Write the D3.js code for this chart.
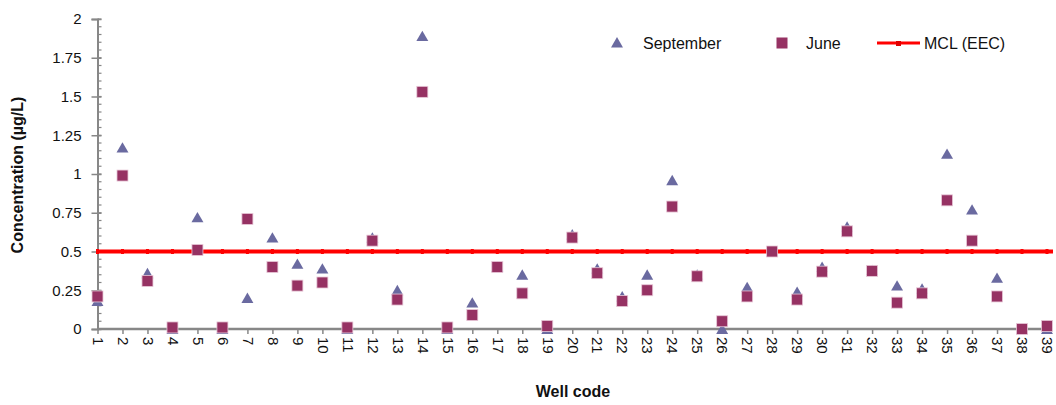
<!DOCTYPE html>
<html><head><meta charset="utf-8">
<script src="https://cdn.jsdelivr.net/npm/d3@7"></script>
<style>body{margin:0;background:#fff}svg{display:block;font-family:"Liberation Sans",Arial,sans-serif}</style>
</head><body><svg id="c" width="1056" height="405"></svg>
<script>
const wells = d3.range(1, 40).map(String);
const september = [0.18,1.17,0.36,0,0.72,0,0.20,0.59,0.42,0.39,0,0.59,0.25,1.89,0,0.17,0.40,0.35,0,0.61,0.39,0.21,0.35,0.96,0.35,0,0.27,0.50,0.24,0.40,0.66,0.38,0.28,0.26,1.13,0.77,0.33,0,0];
const june = [0.21,0.99,0.31,0.01,0.51,0.01,0.71,0.40,0.28,0.30,0.01,0.57,0.19,1.53,0.01,0.09,0.40,0.23,0.02,0.59,0.36,0.18,0.25,0.79,0.34,0.05,0.21,0.50,0.19,0.37,0.63,0.375,0.17,0.23,0.83,0.57,0.21,0,0.02];
const mcl = 0.5;
const yTicks = [0,0.25,0.5,0.75,1,1.25,1.5,1.75,2];
const legendLabels = ["September","June","MCL (EEC)"];

const svg = d3.select("#c");
const x = d3.scalePoint().domain(wells).range([97.5,1047]);
const y = d3.scaleLinear().domain([0,2]).range([329,19]);
const axisColor = "#878787";
const triColor = "#6a6aa0";
const sqColor = "#963263";

// minor y ticks
const g = svg.append("g");
g.selectAll(".minor").data(d3.range(0,2.0001,0.05)).join("line")
  .attr("x1",97.5).attr("x2",101.5).attr("y1",d=>y(d)).attr("y2",d=>y(d))
  .attr("stroke",axisColor).attr("stroke-width",1.2);

const yAxis = svg.append("g").attr("transform","translate(97.5,0)")
  .call(d3.axisLeft(y).tickValues(yTicks).tickFormat(d=>String(d)).tickSize(6).tickPadding(10));
yAxis.select(".domain").attr("stroke",axisColor).attr("stroke-width",2);
yAxis.selectAll(".tick line").attr("stroke",axisColor).attr("stroke-width",1.5).attr("x2",-6).attr("x1",4);
yAxis.selectAll("text").attr("font-size",15).attr("fill","#111").style("font-family","Liberation Sans, Arial, sans-serif");

const xAxis = svg.append("g").attr("transform","translate(0,329)")
  .call(d3.axisBottom(x).tickSize(5).tickSizeOuter(0));
xAxis.select(".domain").attr("stroke",axisColor).attr("stroke-width",2.5).attr("d","M97.5,0H1052");
xAxis.selectAll(".tick line").attr("stroke",axisColor).attr("stroke-width",1.5);
xAxis.selectAll("text").attr("font-size",15).attr("fill","#111")
  .style("font-family","Liberation Sans, Arial, sans-serif")
  .attr("transform","rotate(90)").attr("text-anchor","start")
  .attr("x",8).attr("y",0).attr("dy","0.35em");

// MCL line
svg.append("line").attr("x1",97.5).attr("x2",1053).attr("y1",y(mcl)).attr("y2",y(mcl))
  .attr("stroke","#ff0000").attr("stroke-width",4);
svg.append("g").selectAll("rect").data(wells).join("rect")
  .attr("x",d=>x(d)-1.5).attr("y",y(mcl)-2.5).attr("width",3).attr("height",5).attr("fill","#ff0000");

const tri = d3.symbol().type(d3.symbolTriangle).size(62);
svg.append("g").selectAll("path").data(september).join("path")
  .attr("d",tri).attr("transform",(d,i)=>`translate(${x(wells[i])},${y(d)+1.5})`)
  .attr("fill",triColor);

svg.append("g").selectAll("rect").data(june).join("rect")
  .attr("x",(d,i)=>x(wells[i])-5.5).attr("y",d=>y(d)-5.5).attr("width",11).attr("height",11)
  .attr("fill",sqColor).attr("stroke","#e8c8d8").attr("stroke-width",0.8);

// axis titles
svg.append("text").attr("x",573).attr("y",397).attr("text-anchor","middle")
  .attr("font-size",16).attr("font-weight","bold").attr("fill","#111").text("Well code");
svg.append("text").attr("transform","translate(23,175) rotate(-90)").attr("text-anchor","middle")
  .attr("font-size",16).attr("font-weight","bold").attr("fill","#111").text("Concentration (µg/L)");

// legend
const lg = svg.append("g");
lg.append("path").attr("d",tri).attr("transform","translate(617,44)").attr("fill",triColor);
lg.append("text").attr("x",643).attr("y",49).attr("font-size",16).attr("fill","#111").text(legendLabels[0]);
lg.append("rect").attr("x",776.5).attr("y",37.5).attr("width",11).attr("height",11).attr("fill",sqColor);
lg.append("text").attr("x",806).attr("y",49).attr("font-size",16).attr("fill","#111").text(legendLabels[1]);
lg.append("line").attr("x1",877).attr("x2",920).attr("y1",43).attr("y2",43).attr("stroke","#ff0000").attr("stroke-width",3);
lg.append("rect").attr("x",896).attr("y",41).attr("width",5).attr("height",5).attr("fill","#e00000");
lg.append("text").attr("x",924).attr("y",49).attr("font-size",16).attr("fill","#111").text(legendLabels[2]);
</script></body></html>
